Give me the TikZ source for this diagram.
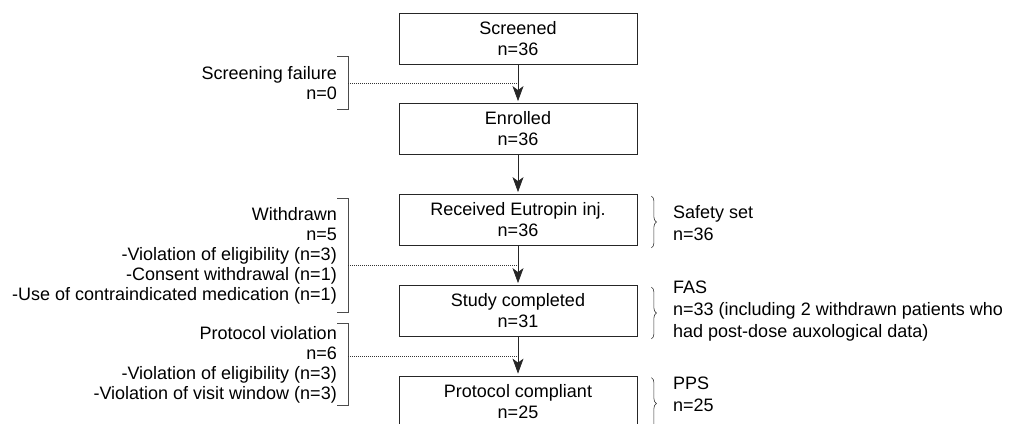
\documentclass[tikz,border=0pt]{standalone}
\usepackage{fontspec}
\setmainfont{Liberation Sans}
\usetikzlibrary{arrows.meta,calc,decorations.pathreplacing}

\tikzset{
  stage/.style={
    draw=black!85,
    line width=0.8pt,
    minimum width=238pt,
    minimum height=51pt,
    inner sep=0pt,
    align=center,
    font=\fontsize{18}{21}\selectfont,
  },
  excluded/.style={
    anchor=east,
    align=right,
    inner xsep=11pt,
    inner ysep=0pt,
    font=\fontsize{18}{20}\selectfont,
  },
  analysis/.style={
    anchor=west,
    align=left,
    inner sep=0pt,
    font=\fontsize{18}{22}\selectfont,
  },
  flow/.style={
    draw=black!85,
    line width=0.7pt,
    -{Stealth[length=15pt,width=11pt,inset=4pt]},
    shorten >=2pt,
  },
  bracket/.style={
    draw=black!70,
    line width=0.7pt,
  },
  dropout/.style={
    draw=black!80,
    line width=0.6pt,
    dash pattern=on 0.8pt off 1.2pt,
  },
  setbrace/.style={
    draw=black!80,
    line width=0.6pt,
    decorate,
    decoration={brace, amplitude=5pt},
  },
}

\begin{document}
\begin{tikzpicture}[x=1pt, y=-1pt]

      \useasboundingbox (0,0) rectangle (1011,423);
      \clip (0,0) rectangle (1011,423);

      % flow of patients
      \node[stage](scr) at (518,38.5) {Screened\\n=36};
      \node[stage](enr) at (518,129) {Enrolled\\n=36};
      \node[stage](rec) at (518,220) {Received Eutropin inj.\\n=36};
      \node[stage](stu) at (518,311) {Study completed\\n=31};
      \node[stage](pro) at (518,401.5) {Protocol compliant\\n=25};

      \coordinate (gap1) at ($(scr.south)!.5!(enr.north)$);
      \coordinate (gap3) at ($(rec.south)!.5!(stu.north)$);
      \coordinate (gap4) at ($(stu.south)!.5!(pro.north)$);

      % patients leaving
      \node[excluded, minimum height=52pt](fail) at (348,83) {Screening failure\\n=0};
      \node[excluded, minimum height=113pt](withdrawn) at (348,255.5)
        {Withdrawn\\n=5\\-Violation of eligibility (n=3)\\-Consent withdrawal (n=1)\\-Use of contraindicated medication (n=1)};
      \node[excluded, minimum height=81pt](violation) at (348,364.5)
        {Protocol violation\\n=6\\-Violation of eligibility (n=3)\\-Violation of visit window (n=3)};

      \foreach \n in {fail,withdrawn,violation} {
        \draw[bracket] ([xshift=-11pt]\n.north east) -- (\n.north east)
          -- (\n.south east) -- ([xshift=-11pt]\n.south east);
      };

      \draw[dropout] (fail.east |- gap1) -- (gap1);
      \draw[dropout] (withdrawn.east |- gap3) -- (gap3);
      \draw[dropout] (violation.east |- gap4) -- (gap4);

      \foreach \a/\b in {scr/enr,enr/rec,rec/stu,stu/pro} {
        \draw[flow] (\a) -- (\b);
      };

      % analysis sets
      \node[analysis](safety) at (673,223) {Safety set\\n=36};
      \node[analysis](fas) at (673,311.5) {FAS\\n=33 (including 2 withdrawn patients who\\had post-dose auxological data)};
      \node[analysis](pps) at (673,394) {PPS\\n=25};

      \foreach \b in {rec,stu,pro} {
        \draw[setbrace] ([xshift=14pt,yshift=-2pt]\b.north east) -- ([xshift=14pt,yshift=-2pt]\b.south east);
      };

    \end{tikzpicture}
\end{document}
